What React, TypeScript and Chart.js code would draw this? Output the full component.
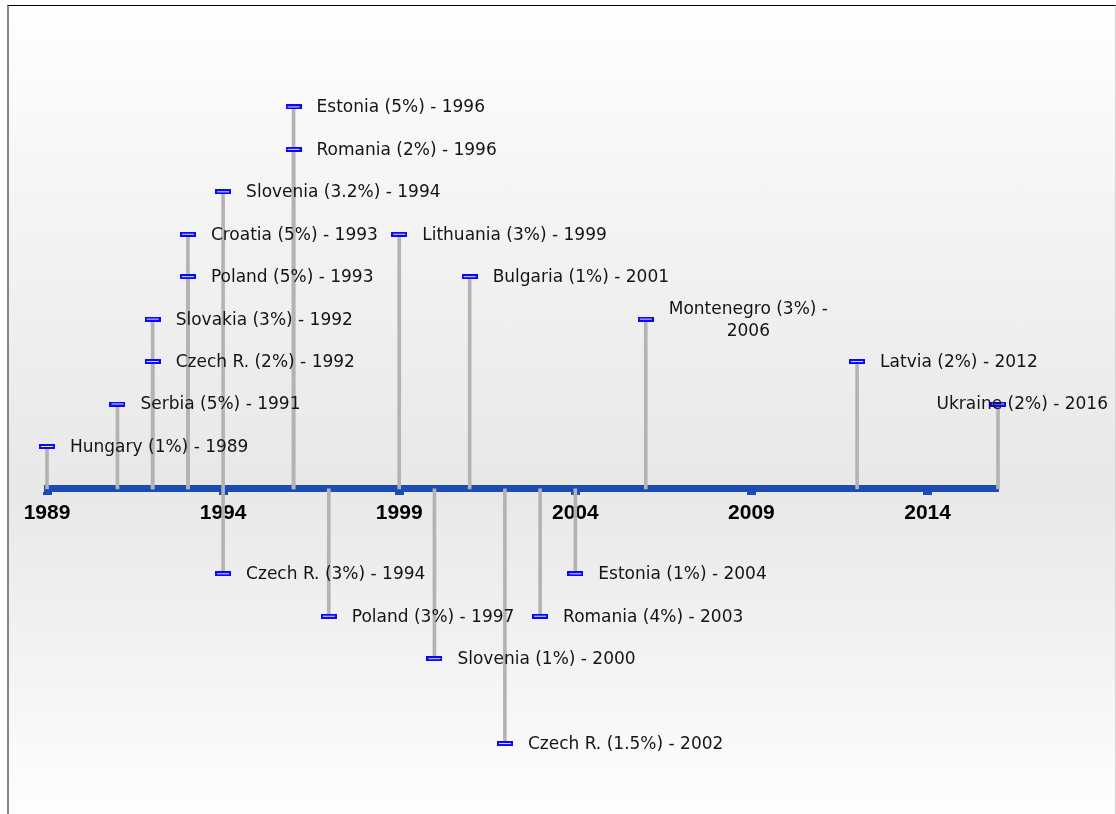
import React, { useEffect, useRef } from 'react';
import { Chart, registerables } from 'chart.js';

Chart.register(...registerables);

// Event years, their stacking level above (+) or below (-) the time axis, and label texts
const eventYears = [1989, 1991, 1992, 1992, 1993, 1993, 1994, 1996, 1996, 1999, 2001, 2006, 2012, 2016, 1994, 1997, 2000, 2002, 2003, 2004];
const eventLevels = [1, 2, 3, 4, 5, 6, 7, 8, 9, 6, 5, 4, 3, 2, -2, -3, -4, -6, -3, -2];
const eventLabels = [
  'Hungary (1%) - 1989',
  'Serbia (5%) - 1991',
  'Czech R. (2%) - 1992',
  'Slovakia (3%) - 1992',
  'Poland (5%) - 1993',
  'Croatia (5%) - 1993',
  'Slovenia (3.2%) - 1994',
  'Romania (2%) - 1996',
  'Estonia (5%) - 1996',
  'Lithuania (3%) - 1999',
  'Bulgaria (1%) - 2001',
  'Montenegro (3%) -\n2006',
  'Latvia (2%) - 2012',
  'Ukraine (2%) - 2016',
  'Czech R. (3%) - 1994',
  'Poland (3%) - 1997',
  'Slovenia (1%) - 2000',
  'Czech R. (1.5%) - 2002',
  'Romania (4%) - 2003',
  'Estonia (1%) - 2004',
];
const tickYears = [1989, 1994, 1999, 2004, 2009, 2014];
const yearMin = 1989;
const yearMax = 2016;

function makeMarker(): HTMLCanvasElement {
  const c = document.createElement('canvas');
  c.width = 16;
  c.height = 5;
  const g = c.getContext('2d')!;
  g.fillStyle = '#0808ff';
  g.fillRect(0, 0, 16, 5);
  g.fillStyle = '#e2e2ff';
  g.fillRect(2, 2, 12, 1);
  return c;
}

const labelPlugin = {
  id: 'eventLabels',
  afterDatasetsDraw(chart: any) {
    const { ctx } = chart;
    const xs = chart.scales.x;
    const ys = chart.scales.y;
    ctx.save();
    ctx.font = '17px "DejaVu Sans", Verdana, sans-serif';
    ctx.fillStyle = '#141414';
    ctx.textBaseline = 'middle';
    ctx.textAlign = 'left';
    const lh = 22;
    eventYears.forEach((yr, i) => {
      const px = xs.getPixelForValue(yr);
      const py = ys.getPixelForValue(eventLevels[i]);
      const lines = eventLabels[i].split('\n');
      const widths = lines.map((l) => ctx.measureText(l).width);
      const w = Math.max(...widths);
      let left = px + 23;
      const limit = chart.width - 8;
      if (left + w > limit) left = limit - w;
      lines.forEach((l, k) => {
        const ly = py + 1 + (k - (lines.length - 1) / 2) * lh;
        ctx.fillText(l, left + (w - widths[k]) / 2, ly);
      });
    });
    ctx.restore();
  },
};

export default function App() {
  const ref = useRef<HTMLCanvasElement | null>(null);

  useEffect(() => {
    if (!ref.current) return;
    const marker = makeMarker();
    const chart = new Chart(ref.current, {
      type: 'scatter',
      data: {
        datasets: [
          {
            type: 'scatter',
            data: eventYears.map((x, i) => ({ x, y: eventLevels[i] })),
            pointStyle: marker as any,
            pointRadius: 8,
            clip: false,
            order: 0,
          } as any,
          {
            type: 'bar',
            data: eventYears.map((x, i) => ({ x, y: [0, eventLevels[i]] })),
            backgroundColor: '#b3b3b3',
            borderWidth: 0,
            barThickness: 3,
            clip: false,
            order: 1,
          } as any,
        ],
      },
      options: {
        responsive: false,
        maintainAspectRatio: false,
        animation: false,
        layout: { padding: { left: 47, right: 118, top: 22, bottom: 28 } },
        plugins: {
          legend: { display: false },
          tooltip: { enabled: false },
        },
        scales: {
          x: {
            type: 'linear',
            min: yearMin,
            max: yearMax,
            offset: false,
            position: { y: 0 } as any,
            z: 1,
            border: { display: true, color: '#1c4bb6', width: 7 },
            grid: {
              display: true,
              drawOnChartArea: false,
              drawTicks: true,
              tickLength: 3,
              tickWidth: 9,
              tickColor: '#1c4bb6',
              offset: false,
            },
            ticks: {
              autoSkip: false,
              maxRotation: 0,
              padding: 9,
              color: '#000000',
              font: { family: '"Liberation Sans", Arial, sans-serif', size: 21, weight: 'bold' },
              callback: (v: any) => String(v),
            },
            afterBuildTicks: (s: any) => {
              s.ticks = tickYears.map((v) => ({ value: v }));
            },
          } as any,
          y: {
            type: 'linear',
            display: false,
            min: -7,
            max: 11,
          },
        },
      },
      plugins: [labelPlugin],
    });
    return () => chart.destroy();
  }, []);

  return (
    <div style={{ position: 'absolute', left: 0, top: 0, width: 1116, height: 814, overflow: 'hidden', background: '#ffffff' }}>
      <div
        style={{
          position: 'absolute',
          left: 7,
          top: 5,
          width: 1109,
          height: 809,
          boxSizing: 'border-box',
          borderTop: '1px solid #000000',
          borderLeft: '2px solid #858585',
          borderRight: '1px solid #d2d2d2',
          background: 'linear-gradient(to bottom, #ffffff 0px, #f4f4f4 200px, #e8e8e8 480px, #f2f2f2 640px, #fdfdfd 790px, #fdfdfd 809px)',
        }}
      />
      <canvas ref={ref} width={1116} height={814} style={{ position: 'absolute', left: 0, top: 0, width: 1116, height: 814 }} />
    </div>
  );
}
